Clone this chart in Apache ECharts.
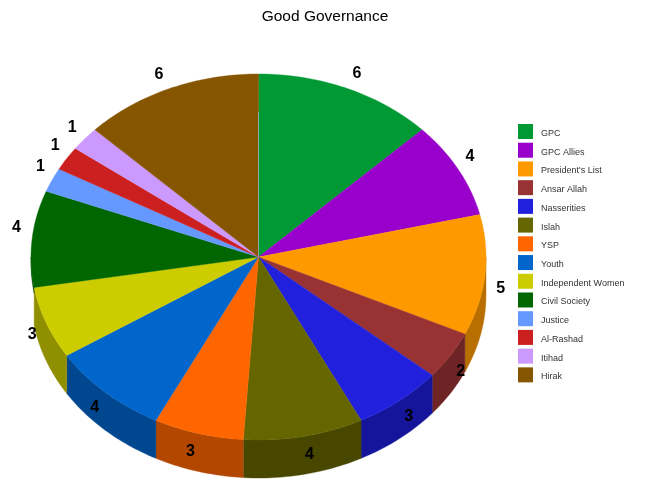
<!DOCTYPE html>
<html>
<head>
<meta charset="utf-8">
<style>html,body{margin:0;padding:0;background:#fff}#c{width:650px;height:490px}</style>
<script src="https://cdn.jsdelivr.net/npm/echarts@6/dist/echarts.min.js"></script>
</head>
<body>
<div id="c"></div>
<script>
const titleText = 'Good Governance';
const categories = ['GPC','GPC Allies',"President's List",'Ansar Allah','Nasserities','Islah','YSP','Youth','Independent Women','Civil Society','Justice','Al-Rashad','Itihad','Hirak'];
const seats = [6,4,5,2,3,4,3,4,3,4,1,1,1,6];
const colors = ['#009933','#9900CC','#FF9900','#993333','#2020DD','#666600','#FF6600','#0066CC','#CCCC00','#006600','#6699FF','#CC2020','#CC99FF','#855500'];
const wallColors = ['#006B24','#6B008F','#B86F00','#6E2424','#15159B','#474700','#B34700','#00478F','#8F8F00','#004700','#476BB3','#8F1616','#8F6BB3','#5D3B00'];

// layout of the tilted pie
const cx = 258.5, cy = 257, rx = 227.5, ry = 183, depth = 38;
const labelRx = 245, labelRy = 201;
const nudge = [0.7,-1.6,3,1.8,0.5,-0.5,0.8,-0.2,-1.4,3,2.2,1.4,0.3,-1];
const total = seats.reduce((a,b)=>a+b,0);
const rad = d => d*Math.PI/180;
const px = a => cx + rx*Math.sin(rad(a));
const py = a => cy - ry*Math.cos(rad(a));

function arc(a0,a1){
  const pts=[]; const n=Math.max(2,Math.ceil(a1-a0));
  for(let i=0;i<=n;i++){const a=a0+(a1-a0)*i/n; pts.push([px(a),py(a)]);}
  return pts;
}

const series = categories.map((name,i)=>{
  const before = seats.slice(0,i).reduce((a,b)=>a+b,0);
  return {
    name, type:'custom', coordinateSystem:'none', animation:false, silent:true,
    data:[[seats[i]]],
    itemStyle:{color:colors[i]},
    renderItem(params,api){
      const v = api.value(0);
      const a0 = before/total*360, a1 = (before+v)/total*360;
      const kids = [];
      // side wall: the part of the rim on the front half (90..270 degrees)
      const w0 = Math.max(a0,90), w1 = Math.min(a1,270);
      if(w1>w0){
        const wallDepth = a1>270 ? 6 : depth; // the far-left sliver barely shows
        const top = arc(w0,w1);
        const bottom = top.map(p=>[p[0],p[1]+wallDepth]).reverse();
        kids.push({type:'polygon',z2:1,shape:{points:top.concat(bottom)},
          style:{fill:wallColors[i],stroke:wallColors[i],lineWidth:0.4}});
      }
      kids.push({type:'polygon',z2:2,shape:{points:[[cx,cy]].concat(arc(a0,a1))},
        style:{fill:colors[i],stroke:colors[i],lineWidth:0.4}});
      if(i===0){
        kids.push({type:'line',z2:3,shape:{x1:cx,y1:112,x2:cx,y2:cy},
          style:{stroke:'#9aa59a',lineWidth:1}});
      }
      const m = (a0+a1)/2 + nudge[i];
      kids.push({type:'text',z2:100,style:{
        text:String(v),
        x:cx+labelRx*Math.sin(rad(m)), y:cy-labelRy*Math.cos(rad(m))+1,
        fill:'#000',font:'bold 16px "Liberation Sans"',align:'center',verticalAlign:'middle'}});
      return {type:'group',children:kids};
    }
  };
});

const chart = echarts.init(document.getElementById('c'),null,{renderer:'canvas'});
chart.setOption({
  animation:false,
  backgroundColor:'#fff',
  color:colors,
  title:{text:titleText,left:'center',top:4,textStyle:{fontFamily:'Liberation Sans',fontSize:15.5,fontWeight:'normal',color:'#000'}},
  legend:{orient:'vertical',left:513,top:119,itemWidth:15,itemHeight:15,itemGap:3.72,icon:'rect',
    selectedMode:false,data:categories,itemStyle:{borderWidth:0},
    formatter:n=>'{t|'+n+'}',
    textStyle:{fontFamily:'Liberation Sans',fontSize:9,color:'#333',
      rich:{t:{fontFamily:'Liberation Sans',fontSize:9,color:'#333',padding:[4,0,0,3]}}}},
  series
});
</script>
</body>
</html>
